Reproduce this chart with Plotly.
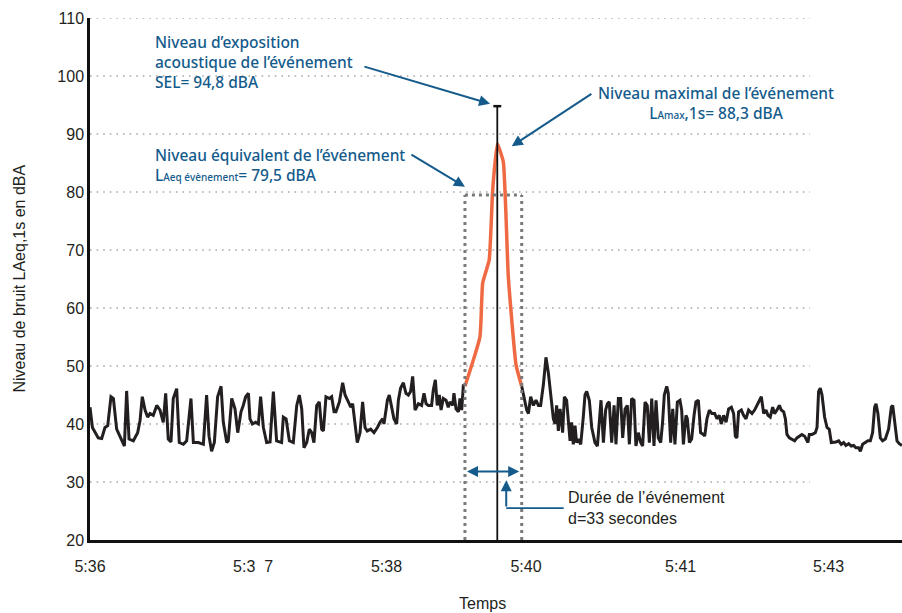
import plotly.graph_objects as go

# ---------------- data ----------------
# time in seconds from the start of the window, LAeq,1s in dBA
t_before = [0, 1.4, 4.8, 6.8, 8.7, 10.3, 12.2, 13.6, 15.5, 18.4, 20.0, 21.3, 22.7, 25.2, 27.7, 29.1,
            30.4, 32.0, 33.5, 34.9, 36.8, 38.8, 40.7, 42.6, 44.0, 45.5, 47.1, 48.4, 50.4, 51.9, 54.3,
            56.2, 58.7, 60.1, 63.0, 65.9, 67.8, 69.2, 70.7, 72.3, 74.2, 76.2, 77.5, 79.5, 80.4, 82.4,
            84.3, 85.9, 87.8, 89.1, 90.5, 92.1, 93.0, 94.4, 96.3, 97.9, 99.2, 100.8, 102.7, 104.7,
            106.6, 108.5, 111.4, 112.4, 114.0, 115.9, 118.2, 120.2, 121.7, 123.1, 124.4, 126.0, 127.5,
            128.9, 130.2, 131.8, 133.3, 134.7, 135.7, 137.2, 139.2, 140.5, 141.9, 143.0, 145.0, 146.9,
            148.3, 150.2, 151.6, 152.7, 154.1, 155.4, 157.0, 158.5, 159.9, 161.2, 163.2, 165.1, 167.1,
            168.6, 170.2, 170.9, 172.1, 172.9, 174.0, 175.4, 176.7, 178.3, 179.3, 180.6, 182.2, 183.7,
            185.1, 186.4, 187.6, 189.0, 190.9, 192.8, 194.2, 195.4, 196.7, 198.6, 199.6, 200.8, 201.9,
            203.1, 204.1, 205.4, 207.0, 208.3, 209.3, 210.9, 211.6, 212.8, 214.2, 215.1, 216.1, 217.1,
            218.0]
l_before = [42.9, 39.4, 37.6, 37.5, 39.4, 39.7, 44.7, 44.4, 39.1, 37.1, 36.2, 45.7, 37.4, 37.1, 38.5, 40.6,
            44.7, 42.4, 41.2, 41.8, 41.5, 43.2, 42.4, 40.3, 45.3, 37.4, 36.9, 44.4, 46.1, 36.8, 36.5,
            37.1, 44.4, 36.8, 36.8, 36.5, 45.0, 37.9, 35.3, 36.8, 44.7, 46.5, 40.3, 36.8, 37.1, 44.4,
            42.6, 38.5, 42.1, 43.2, 44.7, 45.3, 40.9, 40.0, 40.3, 40.0, 44.7, 39.4, 36.8, 36.9,
            45.6, 37.1, 36.8, 41.2, 40.9, 37.1, 36.8, 43.2, 45.0, 42.6, 35.9, 36.8, 39.1,
            38.5, 36.8, 43.2, 43.8, 39.1, 38.8, 44.7, 44.4, 44.7, 42.1, 42.1, 43.8, 47.1,
            45.0, 43.8, 42.9, 43.5, 39.7, 36.8, 38.5, 43.8, 39.4, 38.8, 39.1, 38.5, 39.4,
            40.3, 40.9, 40.0, 42.4, 44.1, 45.0, 42.6, 40.9, 40.0, 44.1, 46.2, 47.1, 45.3,
            45.0, 45.6, 48.2, 42.4, 43.5, 43.2, 45.3, 43.5, 43.2, 43.2, 45.9, 47.6, 43.2,
            45.0, 42.4, 44.4, 44.1, 42.9, 43.8, 43.2, 45.3, 42.6, 42.1, 44.4, 42.4, 46.8,
            46.5]

t_event = [218.0, 226.7, 228.3, 232.1, 234.1, 236.8, 240.3, 243.2, 247.7, 251.0]
l_event = [46.5, 55.0, 64.3, 68.3, 80.3, 88.3, 85.2, 65.4, 50.2, 46.5]

t_after = [251.0, 252.3, 253.9, 254.9, 256.2, 257.8, 259.3, 260.7, 262.0, 263.6, 265.1, 266.5, 267.8,
           269.4, 270.4, 271.3, 272.3, 273.3, 274.8, 275.8, 277.1, 278.1, 279.1, 280.0, 281.0, 282.0,
           282.9, 283.9, 285.3, 286.8, 287.8, 288.8, 290.3, 291.7, 293.6, 295.0, 296.1, 297.1, 298.5,
           299.8, 300.8, 301.9, 303.3, 304.7, 305.8, 307.2, 308.5, 309.7, 311.1, 312.4, 313.6, 314.9,
           316.3, 317.4, 318.8, 320.2, 321.3, 322.7, 324.0, 325.2, 326.6, 327.9, 329.1, 330.4, 331.8,
           332.9, 333.9, 335.3, 336.2, 337.6, 338.8, 340.1, 341.5, 343.0, 344.0, 345.0, 346.5, 347.3,
           348.5, 349.8, 351.2, 352.3, 353.7, 355.0, 356.6, 357.4, 358.7, 360.1, 361.6, 363.2, 364.5,
           365.9, 367.0, 368.4, 369.8, 371.3, 372.9, 374.2, 375.2, 376.1, 377.1, 378.7, 380.0, 381.4,
           382.9, 384.9, 386.4, 387.8, 389.1, 390.3, 391.7, 393.0, 394.2, 395.5, 396.9, 398.0, 399.4,
           400.8, 401.9, 403.3, 404.3, 405.2, 406.6, 408.1, 409.7, 411.0, 412.4, 413.9, 415.5, 416.3,
           417.4, 418.2, 419.8, 421.7, 422.7, 423.6, 424.6, 425.6, 427.1, 428.5, 429.8, 431.0, 432.4,
           433.7, 435.3, 436.8, 438.2, 439.5, 441.1, 442.6, 444.0, 445.3, 446.9, 447.9, 449.2, 450.8,
           452.3, 453.7, 455.0, 456.2, 457.0, 458.1, 459.5, 460.8, 462.4, 464.3, 465.9, 466.7, 467.8,
           469.2, 470.5, 472.1]
l_after = [46.5, 44.4, 42.4, 41.8, 44.7, 43.2, 44.1, 43.2, 43.2, 46.8, 51.5, 48.8, 45.0,
           40.9, 40.0, 43.2, 38.8, 42.6, 38.5, 44.7, 44.1, 40.9, 37.1, 40.3, 36.5, 39.7,
           36.8, 37.4, 36.5, 41.2, 45.0, 45.6, 44.1, 39.4, 36.8, 36.2, 40.9, 44.1, 36.8,
           42.4, 43.5, 43.8, 36.8, 43.2, 36.5, 44.4, 44.4, 37.6, 42.6, 43.2, 36.5, 44.4,
           44.1, 36.2, 38.5, 36.8, 36.2, 43.8, 43.2, 36.8, 44.4, 36.2, 44.1, 37.6, 36.8,
           40.3, 45.0, 46.5, 45.3, 36.8, 42.6, 36.5, 43.8, 44.1, 42.4, 36.5, 41.5, 40.9,
           36.8, 37.4, 41.5, 43.8, 44.1, 38.5, 38.2, 37.9, 40.9, 42.4, 41.8, 41.8, 40.9,
           41.5, 40.0, 41.5, 40.3, 42.6, 42.9, 41.8, 37.9, 37.6, 42.1, 42.4, 41.5, 40.9,
           42.4, 41.8, 42.4, 43.2, 44.1, 44.7, 41.8, 42.4, 41.5, 41.2, 42.9, 41.8, 42.4,
           43.2, 42.4, 42.1, 40.9, 38.2, 37.6, 37.4, 37.1, 37.6, 37.9, 38.2, 37.9, 37.4,
           36.8, 38.2, 38.2, 38.5, 39.4, 45.6, 46.2, 45.0, 41.2, 39.4, 39.1, 36.8, 36.8,
           36.9, 37.1, 36.5, 36.8, 36.3, 36.6, 36.2, 36.3, 35.9, 35.9, 35.3, 36.5, 36.8,
           37.1, 37.1, 38.5, 42.9, 43.5, 41.8, 37.6, 37.1, 37.4, 39.1, 42.9, 43.2, 40.9,
           37.1, 36.6, 36.3]

tick_secs = [0, 94.8, 172.4, 253.5, 343.4, 429.4]
tick_labels = ["5:36", "5:3\u00a0\u00a07", "5:38", "5:40", "5:41", "5:43"]

event_start = 218.0
event_end = 251.0
event_peak_t = 236.8
laeq_event = 79.5
lamax = 88.3
sel = 94.8

x_max = 472.1
grid_end = 418.6
grid_levels = [30, 40, 50, 60, 70, 80, 90, 100, 110]

BLUE = "#145b8c"
DARK = "#231f20"
ORANGE = "#ef6a43"
FONT = "Liberation Sans, sans-serif"

fig = go.Figure()

# gridlines (dotted, ending before the right edge)
for g in grid_levels:
    fig.add_shape(type="line", x0=0, x1=grid_end, y0=g, y1=g, xref="x", yref="y",
                  line=dict(color="#a8a8a8", width=1.6, dash="1.6px,5px"), layer="below")

# event box (dotted)
box_style = dict(color="#7a7a7a", width=3, dash="3px,4px")
fig.add_shape(type="line", x0=event_start, x1=event_start, y0=20, y1=laeq_event, line=box_style)
fig.add_shape(type="line", x0=event_end, x1=event_end, y0=20, y1=laeq_event, line=box_style)
fig.add_shape(type="line", x0=event_start, x1=event_end, y0=laeq_event, y1=laeq_event, line=box_style)

fig.add_trace(go.Scatter(x=t_before, y=l_before, mode="lines",
                         line=dict(color=DARK, width=3), hoverinfo="skip", showlegend=False))
fig.add_trace(go.Scatter(x=t_after, y=l_after, mode="lines",
                         line=dict(color=DARK, width=3), hoverinfo="skip", showlegend=False))
fig.add_trace(go.Scatter(x=t_event, y=l_event, mode="lines",
                         line=dict(color=ORANGE, width=3.5, shape="spline", smoothing=0.4),
                         hoverinfo="skip", showlegend=False))

# SEL vertical line with cap
fig.add_shape(type="line", x0=event_peak_t, x1=event_peak_t, y0=20, y1=sel,
              line=dict(color="#111", width=1.8))
fig.add_shape(type="line", x0=event_peak_t - 2.3, x1=event_peak_t + 2.3, y0=sel, y1=sel,
              line=dict(color="#111", width=2.5))

# duration arrow connector
fig.add_shape(type="line", x0=242.0, x1=275.4, y0=25.5, y1=25.5, line=dict(color=BLUE, width=1.8))

ann = []
def arrow(tip_x, tip_y, tail_x, tail_y, side="end"):
    ann.append(dict(x=tip_x, y=tip_y, ax=tail_x, ay=tail_y, xref="x", yref="y",
                    axref="x", ayref="y", text="", showarrow=True, arrowhead=2,
                    arrowsize=1.1, arrowwidth=2, arrowcolor=BLUE, arrowside=side,
                    startarrowhead=2, startarrowsize=1.1))

arrow(232.6, 95.2, 158.7, 101.7)
arrow(245.2, 87.9, 292.4, 97.1)
arrow(218.0, 80.9, 186.0, 86.6)
arrow(event_start + 1.2, 31.8, event_end - 0.6, 31.8, side="end+start")
arrow(242.0, 30.3, 242.0, 25.5)

txt_font = dict(family="Noto Sans, sans-serif", size=15.5, color=BLUE, weight=500)
ann.append(dict(x=36.6, y=102.4, xref="x", yref="y", xanchor="left", yanchor="middle",
                align="left", showarrow=False, font=txt_font,
                text="Niveau d’exposition<br>acoustique de l’événement<br>SEL= 94,8 dBA"))
ann.append(dict(x=364, y=95.3, xref="x", yref="y", xanchor="center", yanchor="middle",
                align="center", showarrow=False, font=txt_font,
                text="Niveau maximal de l’événement<br>L<span style='font-size:10px'>Amax</span>,1s= 88,3 dBA"))
ann.append(dict(x=36.6, y=84.7, xref="x", yref="y", xanchor="left", yanchor="middle",
                align="left", showarrow=False, font=txt_font,
                text="Niveau équivalent de l’événement<br>L<span style='font-size:10px'>Aeq évènement</span>= 79,5 dBA"))
ann.append(dict(x=276.5, y=25.5, xref="x", yref="y", xanchor="left", yanchor="middle",
                align="left", showarrow=False,
                font=dict(family=FONT, size=16, color=DARK),
                text="Durée de l’événement<br>d=33 secondes"))
ann.append(dict(x=228, y=-0.121, xref="x", yref="paper", xanchor="center", yanchor="middle",
                showarrow=False, font=dict(family=FONT, size=16, color=DARK), text="Temps"))
ann.append(dict(x=-0.088, y=0.5, xref="paper", yref="paper", xanchor="center", yanchor="middle",
                textangle=-90, showarrow=False, font=dict(family=FONT, size=16, color=DARK),
                text="Niveau de bruit LAeq,1s en dBA"))

fig.update_layout(
    width=902, height=613,
    margin=dict(l=90, r=0, t=18, b=73),
    paper_bgcolor="white", plot_bgcolor="white",
    annotations=ann,
    font=dict(family=FONT, size=16, color=DARK),
    xaxis=dict(range=[0, x_max], tickvals=tick_secs, ticktext=tick_labels,
               showgrid=False, zeroline=False, showline=True, linecolor="#111", linewidth=3,
               ticks="", ticklabelstandoff=10, tickfont=dict(size=16, family=FONT, color=DARK)),
    yaxis=dict(range=[20, 110], dtick=10, tick0=20, showgrid=False, zeroline=False,
               showline=True, linecolor="#111", linewidth=2.5, ticks="",
               tickfont=dict(size=16, family=FONT, color=DARK)),
)

fig.write_html("out.html", config={"displayModeBar": False},
               post_script="document.body.style.margin='0';document.body.style.padding='0';")
